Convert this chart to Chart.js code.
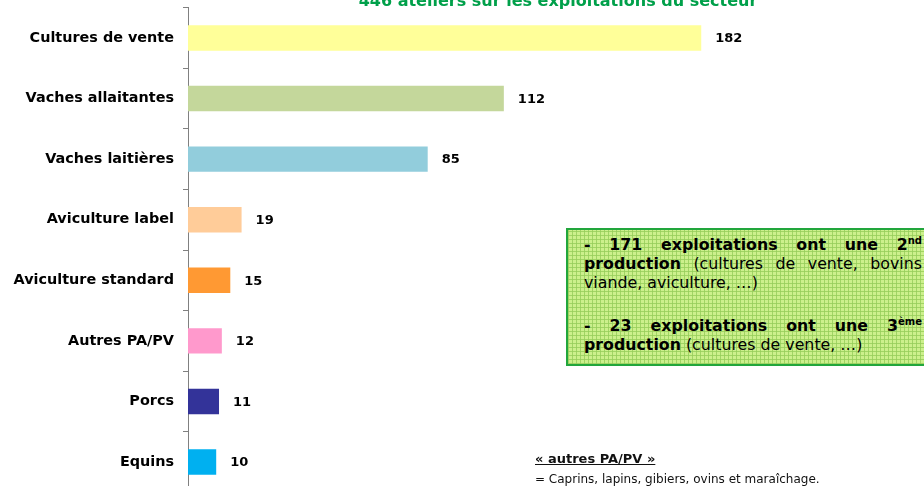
<!DOCTYPE html>
<html>
<head>
<meta charset="utf-8">
<script src="https://cdn.jsdelivr.net/npm/chart.js@4.4.1/dist/chart.umd.min.js"></script>
<style>
  html, body { margin: 0; padding: 0; background: #fff; overflow: hidden; }
  #wrap { position: relative; width: 924px; height: 486px; overflow: hidden; font-family: "DejaVu Sans", Verdana, sans-serif; }
  #chartBox { position: absolute; left: 0; top: -10px; width: 924px; height: 520px; }
  #title { position: absolute; left: 0; width: 1116px; top: -9px; line-height: 19px; text-align: center; color: #00A04A; font-weight: bold; font-size: 16px; }
  #note { position: absolute; left: 566px; top: 228px; width: 338px; padding: 5px 30px 10px 16px; border: 2px solid #22A63C;
    background-color: #CCF08C;
    background-image:
      repeating-linear-gradient(0deg, rgba(150,205,90,0.8) 0 1px, transparent 1px 4px),
      repeating-linear-gradient(90deg, rgba(150,205,90,0.8) 0 1px, transparent 1px 4px);
    font-size: 15.8px; line-height: 19px; color: #000; text-align: justify; }
  #note p { margin: 0; }
  #note p + p { margin-top: 24px; }
  #note sup { font-size: 10px; line-height: 0; vertical-align: 6px; }
  #legendNote { position: absolute; left: 535px; top: 451px; color: #111; }
  #legendNote .h { font-weight: bold; text-decoration: underline; font-size: 13px; }
  #legendNote .t { margin-top: 6px; font-size: 12px; }
</style>
</head>
<body>
<div id="wrap">
  <div id="chartBox"><canvas id="bars"></canvas></div>
  <div id="title">446 ateliers sur les exploitations du secteur</div>
  <div id="note">
    <p><b>- 171 exploitations ont une 2<sup>nd</sup> production</b> (cultures de vente, bovins viande, aviculture, …)</p>
    <p><b>- 23 exploitations ont une 3<sup>ème</sup> production</b> (cultures de vente, …)</p>
  </div>
  <div id="legendNote">
    <div class="h">« autres PA/PV »</div>
    <div class="t">= Caprins, lapins, gibiers, ovins et maraîchage.</div>
  </div>
</div>
<script>
// categories and values
const categories = ["Cultures de vente", "Vaches allaitantes", "Vaches laitières", "Aviculture label",
  "Aviculture standard", "Autres PA/PV", "Porcs", "Equins"];
const ateliers = [182, 112, 85, 19, 15, 12, 11, 10];
const barColors = ["#FFFF99", "#C4D79B", "#92CDDC", "#FFCC99", "#FF9933", "#FF99CC", "#333399", "#00B0F0"];

// draw the value next to each bar
const valueLabels = {
  id: "valueLabels",
  afterDatasetsDraw(chart) {
    const ctx = chart.ctx;
    const meta = chart.getDatasetMeta(0);
    ctx.save();
    ctx.font = "bold 13px 'DejaVu Sans', Verdana, sans-serif";
    ctx.fillStyle = "#000";
    ctx.textBaseline = "middle";
    meta.data.forEach((bar, i) => {
      ctx.fillText(String(ateliers[i]), bar.x + 14, bar.y + 1);
    });
    ctx.restore();
  }
};

const canvas = document.getElementById("bars");
new Chart(canvas.getContext("2d"), {
  type: "bar",
  data: {
    labels: categories,
    datasets: [{
      data: ateliers,
      backgroundColor: barColors,
      borderWidth: 0,
      barPercentage: 0.42,
      categoryPercentage: 1
    }]
  },
  options: {
    indexAxis: "y",
    responsive: true,
    maintainAspectRatio: false,
    animation: false,
    layout: { padding: { top: 0, bottom: 0, left: 0, right: 172 } },
    plugins: { legend: { display: false }, tooltip: { enabled: false }, title: { display: false } },
    scales: {
      x: { display: false, min: 0, max: 200 },
      y: {
        afterFit: (scale) => { scale.width = 188; },
        border: { display: true, color: "#808080", width: 1 },
        grid: { offset: true, drawOnChartArea: false, tickLength: 5, color: "#808080" },
        ticks: {
          color: "#000",
          padding: 9,
          font: { family: "'DejaVu Sans', Verdana, sans-serif", size: 14.4, weight: "bold" }
        }
      }
    }
  },
  plugins: [valueLabels]
});
</script>
</body>
</html>
